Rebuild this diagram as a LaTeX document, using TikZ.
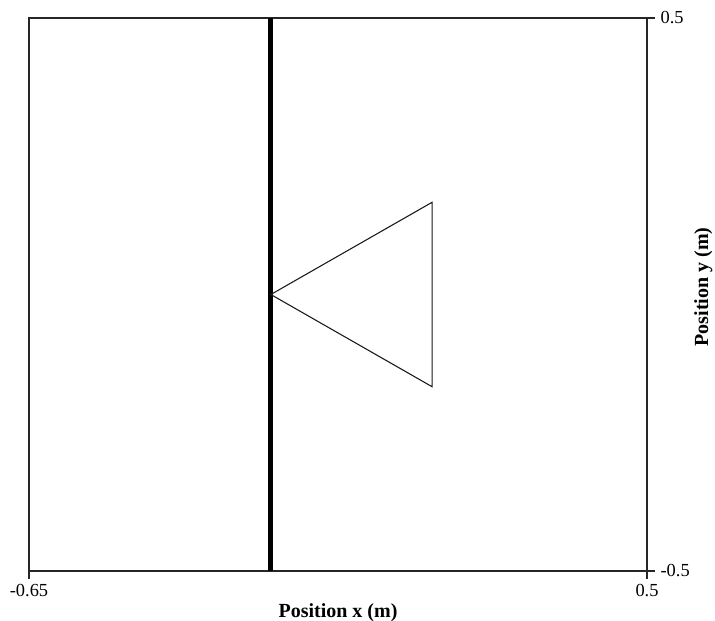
\documentclass[tikz,border=0pt]{standalone}
\usepackage{fontspec}
\setmainfont{Liberation Serif}
\usetikzlibrary{positioning,calc}

\begin{document}
\begin{tikzpicture}[
  x=0.75pt, y=-0.75pt,
  frame/.style={line width=1.2pt, draw=black!85},
  tick/.style={line width=1.2pt, draw=black!85},
  wall/.style={line width=3.8pt, draw=black},
  wedge/.style={line width=0.8pt, draw=black!90, line join=miter},
  ticklab/.style={font=\fontsize{13.8}{15}\selectfont, inner sep=0pt},
  axlab/.style={font=\fontsize{15}{17}\selectfont\bfseries, inner sep=0pt},
]
\useasboundingbox (0,0) rectangle (715,621);

% =========================== DATA AREA (metres) ===========================
\begin{scope}[shift={(29,571)}, x=403.05pt, y=414.75pt, shift={(0.65,0.5)}]
  \coordinate (bl) at (-0.65,-0.5);
  \coordinate (br) at (0.5,-0.5);
  \coordinate (tr) at (0.5,0.5);
  \coordinate (wallB) at (-0.2,-0.5);
  \coordinate (wallT) at (-0.2,0.5);
  \coordinate (tip) at (-0.2,0);
  \coordinate (upC) at (0.1,0.1667);
  \coordinate (loC) at (0.1,-0.1667);

  % frame + ticks
  \draw[frame] (bl) rectangle (tr);
  \draw[tick] (bl) -- ++(0,-6pt);
  \draw[tick] (br) -- ++(0,-6pt);
  \draw[tick] (br) -- ++(6pt,0);
  \draw[tick] (tr) -- ++(6pt,0);

  % wall and wedge
  \draw[wall] (wallB) -- (wallT);
  \draw[wedge] (tip) -- (upC) -- (loC) -- cycle;

  % tick labels
  \node[ticklab, below=10pt of bl] (xmin) {-0.65};
  \node[ticklab, below=10pt of br] (xmax) {0.5};
  \node[ticklab, right=10pt of br] (ymin) {-0.5};
  \node[ticklab, right=10pt of tr] (ymax) {0.5};
\end{scope}

% =========================== AXIS TITLES ===========================
\node[axlab, anchor=base] (xlab) at ($(bl)!0.5!(br)+(0,-35pt)$) {Position x (m)};
\node[axlab, anchor=base, rotate=90] (ylab) at (708,287) {Position y (m)};

\end{tikzpicture}
\end{document}
